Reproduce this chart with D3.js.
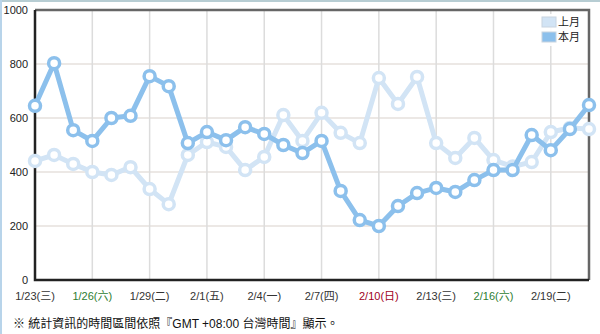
<!DOCTYPE html>
<html>
<head>
<meta charset="utf-8">
<script src="https://cdn.jsdelivr.net/npm/d3@7"></script>
<style>
  html, body { margin: 0; padding: 0; background: #fff; }
  body { width: 600px; height: 334px; overflow: hidden; }
  text { font-family: "Liberation Sans", Arial, "Noto Sans CJK TC", sans-serif; }
</style>
</head>
<body>
<div id="chart"></div>
<script>
const dates = ["1/23","1/24","1/25","1/26","1/27","1/28","1/29","1/30","1/31","2/1",
  "2/2","2/3","2/4","2/5","2/6","2/7","2/8","2/9","2/10","2/11",
  "2/12","2/13","2/14","2/15","2/16","2/17","2/18","2/19","2/20","2/21"];
const tickLabels = ["1/23(三)","1/26(六)","1/29(二)","2/1(五)","2/4(一)","2/7(四)","2/10(日)","2/13(三)","2/16(六)","2/19(二)"];
const tickColors = ["#333","#2e7d32","#333","#333","#333","#333","#a0001c","#333","#2e7d32","#333"];
const lastMonth = [441,463,430,400,389,418,337,281,463,511,
  493,407,456,611,515,619,545,507,748,652,
  752,507,452,526,444,420,437,548,563,559];
const thisMonth = [645,803,555,515,600,608,755,718,507,548,
  518,566,541,500,470,515,330,222,200,274,
  322,341,326,370,407,407,537,481,559,648];
const yTicks = [0,200,400,600,800,1000];

const W = 600, H = 334;
const m = { left: 35, right: 11, top: 10, bottom: 54 };

const svg = d3.select("#chart").append("svg").attr("width", W).attr("height", H);

// page frame
svg.append("line").attr("x1", 0).attr("x2", W).attr("y1", 1).attr("y2", 1)
  .attr("stroke", "#9fbcc4").attr("stroke-width", 1.5);
svg.append("line").attr("x1", 1).attr("x2", 1).attr("y1", 0).attr("y2", H)
  .attr("stroke", "#b8d4ea").attr("stroke-width", 2);

const x = d3.scalePoint().domain(dates).range([m.left, W - m.right]);
const y = d3.scaleLinear().domain([0, 1000]).range([H - m.bottom, m.top]);

const g = svg.append("g");

// grid
g.selectAll("line.hgrid").data(yTicks.slice(1, -1)).enter().append("line")
  .attr("class", "hgrid")
  .attr("x1", m.left).attr("x2", W - m.right)
  .attr("y1", d => y(d)).attr("y2", d => y(d))
  .attr("stroke", "#e6e0dc").attr("stroke-width", 1.5);

const tickDates = tickLabels.map(t => t.split("(")[0]);
g.selectAll("line.vgrid").data(tickDates.slice(1)).enter().append("line")
  .attr("class", "vgrid")
  .attr("x1", d => x(d)).attr("x2", d => x(d))
  .attr("y1", m.top).attr("y2", H - m.bottom)
  .attr("stroke", "#dcdcdc").attr("stroke-width", 1.5);

// frame of plot
g.append("path")
  .attr("d", `M${m.left},${m.top}H${W - m.right}V${H - m.bottom}`)
  .attr("fill", "none").attr("stroke", "#666").attr("stroke-width", 2.5);
g.append("path")
  .attr("d", `M${m.left},${m.top}V${H - m.bottom}H${W - m.right}`)
  .attr("fill", "none").attr("stroke", "#222").attr("stroke-width", 2.5);

// y labels
g.selectAll("text.ylab").data(yTicks).enter().append("text")
  .attr("class", "ylab")
  .attr("x", m.left - 7).attr("y", d => y(d) + 4)
  .attr("text-anchor", "end").attr("font-size", 11).attr("fill", "#222")
  .text(d => d);

// x labels
g.selectAll("text.xlab").data(tickLabels).enter().append("text")
  .attr("class", "xlab")
  .attr("x", (d, i) => x(tickDates[i])).attr("y", H - m.bottom + 20)
  .attr("text-anchor", "middle").attr("font-size", 11)
  .attr("fill", (d, i) => tickColors[i])
  .text(d => d);

const line = d3.line().x((d, i) => x(dates[i])).y(d => y(d));

function drawSeries(vals, color) {
  const s = g.append("g");
  s.append("path").datum(vals).attr("d", line)
    .attr("fill", "none").attr("stroke", color).attr("stroke-width", 5)
    .attr("stroke-linejoin", "round");
  s.selectAll("circle").data(vals).enter().append("circle")
    .attr("cx", (d, i) => x(dates[i])).attr("cy", d => y(d))
    .attr("r", 5.5).attr("fill", "#fff")
    .attr("stroke", color).attr("stroke-width", 3.5);
}
drawSeries(lastMonth, "#d2e4f5");
drawSeries(thisMonth, "#8cc0ec");

// legend
const legend = svg.append("g").attr("transform", "translate(540,14)");
legend.append("rect").attr("x", 0).attr("y", 0).attr("width", 42).attr("height", 32)
  .attr("fill", "#fff").attr("opacity", 0.9);
[["上月", "#d2e4f5"], ["本月", "#8cc0ec"]].forEach((it, i) => {
  legend.append("rect").attr("x", 2).attr("y", 3 + i * 15).attr("width", 14).attr("height", 10)
    .attr("fill", it[1]).attr("stroke", "#c8d4e0").attr("stroke-width", 1);
  legend.append("text").attr("x", 18).attr("y", 12 + i * 15)
    .attr("font-size", 11).attr("fill", "#222").text(it[0]);
});

// footnote
svg.append("text").attr("x", 13).attr("y", 328)
  .attr("font-size", 12).attr("fill", "#111")
  .text("※ 統計資訊的時間區間依照『GMT +08:00 台灣時間』顯示。");
</script>
</body>
</html>
